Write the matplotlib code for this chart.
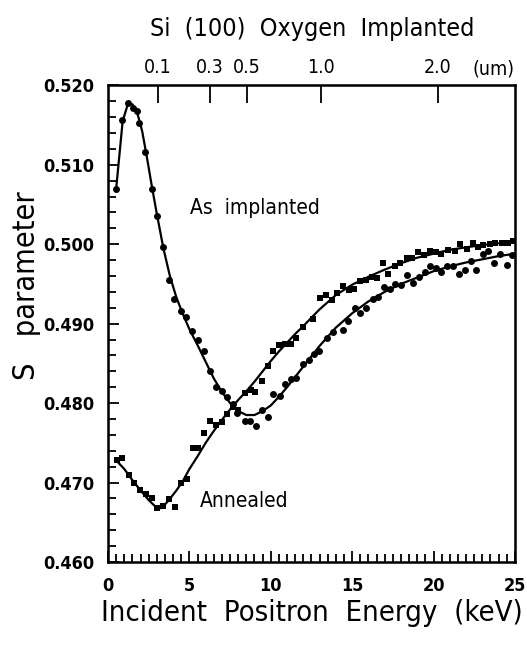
import numpy as np
import matplotlib.pyplot as plt
from matplotlib.ticker import MultipleLocator

plt.rcParams['font.family'] = ['DejaVu Sans']
plt.rcParams['font.stretch'] = 'condensed'

# As implanted (circles)
e_imp = [0.49, 0.88, 1.21, 1.56, 1.75, 1.92, 2.29, 2.68, 3.03, 3.36, 3.75, 4.08, 4.46,
         4.79, 5.18, 5.55, 5.90, 6.27, 6.63, 6.98, 7.32, 7.70, 7.94, 8.42, 8.72, 9.09,
         9.48, 9.85, 10.15, 10.57, 10.87, 11.24, 11.58, 11.95, 12.34, 12.65, 12.98, 13.43,
         13.84, 14.41, 14.76, 15.17, 15.48, 15.85, 16.30, 16.60, 16.95, 17.32, 17.63, 18.0,
         18.35, 18.72, 19.10, 19.47, 19.78, 20.15, 20.49, 20.84, 21.21, 21.56, 21.93, 22.30,
         22.64, 23.02, 23.36, 23.71, 24.08, 24.49, 24.80]
s_imp = [0.5070, 0.5156, 0.5178, 0.5171, 0.5168, 0.5152, 0.5116, 0.5070, 0.5035, 0.4997,
         0.4955, 0.4931, 0.4916, 0.4908, 0.4891, 0.4879, 0.4865, 0.4841, 0.4820, 0.4815,
         0.4808, 0.4799, 0.4788, 0.4777, 0.4778, 0.4771, 0.4791, 0.4783, 0.4812, 0.4809,
         0.4824, 0.4830, 0.4831, 0.4849, 0.4854, 0.4862, 0.4865, 0.4882, 0.4889, 0.4892,
         0.4903, 0.4920, 0.4914, 0.4920, 0.4931, 0.4934, 0.4946, 0.4944, 0.4950, 0.4949,
         0.4961, 0.4951, 0.4959, 0.4965, 0.4973, 0.4970, 0.4965, 0.4973, 0.4972, 0.4963,
         0.4968, 0.4979, 0.4967, 0.4988, 0.4992, 0.4976, 0.4988, 0.4974, 0.4987]

# Annealed (squares)
e_ann = [0.53, 0.88, 1.31, 1.62, 1.97, 2.31, 2.68, 3.03, 3.36, 3.77, 4.12, 4.48, 4.87,
         5.24, 5.51, 5.92, 6.27, 6.63, 6.98, 7.33, 7.66, 8.0, 8.42, 8.76, 9.03, 9.48,
         9.85, 10.15, 10.52, 10.87, 11.22, 11.58, 12.0, 12.61, 13.02, 13.39, 13.74, 14.09,
         14.45, 14.80, 15.11, 15.48, 15.83, 16.19, 16.5, 16.91, 17.22, 17.63, 17.97, 18.35,
         18.69, 19.06, 19.41, 19.78, 20.15, 20.49, 20.90, 21.31, 21.62, 22.03, 22.44, 22.75,
         23.05, 23.46, 23.77, 24.18, 24.59, 24.90]
s_ann = [0.4729, 0.4731, 0.4709, 0.4700, 0.4691, 0.4685, 0.4680, 0.4668, 0.4670, 0.4679,
         0.4669, 0.4700, 0.4705, 0.4743, 0.4743, 0.4762, 0.4778, 0.4772, 0.4776, 0.4786,
         0.4795, 0.4791, 0.4813, 0.4816, 0.4814, 0.4828, 0.4847, 0.4866, 0.4873, 0.4874,
         0.4875, 0.4882, 0.4896, 0.4906, 0.4932, 0.4936, 0.4930, 0.4938, 0.4947, 0.4942,
         0.4944, 0.4954, 0.4955, 0.4959, 0.4958, 0.4976, 0.4963, 0.4972, 0.4976, 0.4983,
         0.4983, 0.4990, 0.4986, 0.4992, 0.4990, 0.4988, 0.4993, 0.4992, 0.5000, 0.4994,
         0.5001, 0.4996, 0.4999, 0.5000, 0.5002, 0.5001, 0.5002, 0.5004]

# fitted curves
fit_imp_e = [0.5, 0.9, 1.2, 1.5, 1.8, 2.1, 2.4, 2.7, 3.0, 3.4, 3.8, 4.2, 4.6, 5.0, 5.5,
             6.0, 6.5, 7.0, 7.5, 8.0, 8.5, 9.0, 9.5, 10, 10.5, 11, 11.5, 12, 12.5, 13,
             14, 15, 16, 17, 18, 19, 20, 21, 22, 23, 24, 25]
fit_imp_s = [0.5070, 0.5155, 0.5175, 0.5176, 0.5165, 0.5142, 0.5108, 0.5072, 0.5038,
             0.4995, 0.4960, 0.4933, 0.4912, 0.4893, 0.4873, 0.4852, 0.4831, 0.4814,
             0.4800, 0.4790, 0.4785, 0.4785, 0.4790, 0.4797, 0.4808, 0.4820, 0.4833,
             0.4846, 0.4859, 0.4872, 0.4895, 0.4913, 0.4928, 0.4940, 0.4950, 0.4958,
             0.4966, 0.4972, 0.4977, 0.4981, 0.4985, 0.4988]
fit_ann_e = [0.5, 1.0, 1.5, 2.0, 2.5, 3.0, 3.3, 3.7, 4.2, 4.6, 5.0, 5.5, 6.0, 6.5, 7.0,
             7.5, 8.0, 8.5, 9.0, 9.5, 10, 10.5, 11, 11.5, 12, 13, 14, 15, 16, 17, 18, 19,
             20, 21, 22, 23, 24, 25]
fit_ann_s = [0.4728, 0.4717, 0.4703, 0.4690, 0.4678, 0.4668, 0.4668, 0.4677, 0.4690,
             0.4702, 0.4717, 0.4733, 0.4750, 0.4765, 0.4779, 0.4792, 0.4804, 0.4815,
             0.4827, 0.4840, 0.4853, 0.4865, 0.4876, 0.4887, 0.4897, 0.4918, 0.4936,
             0.4949, 0.4959, 0.4968, 0.4976, 0.4983, 0.4988, 0.4993, 0.4996, 0.4999,
             0.5001, 0.5003]

# depth scale on top (energy positions of the depth ticks)
depth_e = [3.07, 6.27, 8.54, 13.08, 20.27]
depth_lbl = ['0.1', '0.3', '0.5', '1.0', '2.0']

fig = plt.figure(figsize=(5.27, 6.46), dpi=100)
ax = fig.add_axes([0.205, 0.130, 0.772, 0.738])

ax.plot(fit_imp_e, fit_imp_s, color='black', lw=1.6)
ax.plot(fit_ann_e, fit_ann_s, color='black', lw=1.6)
ax.plot(e_imp, s_imp, 'o', color='black', ms=5, mew=0)
ax.plot(e_ann, s_ann, 's', color='black', ms=4.8, mew=0)

ax.set_xlim(0, 25)
ax.set_ylim(0.460, 0.520)
ax.xaxis.set_major_locator(MultipleLocator(5))
ax.xaxis.set_minor_locator(MultipleLocator(0.5))
ax.yaxis.set_major_locator(MultipleLocator(0.01))
ax.yaxis.set_minor_locator(MultipleLocator(0.002))
ax.yaxis.set_major_formatter(plt.FormatStrFormatter('%.3f'))
ax.tick_params(which='both', direction='in', top=False, right=False, width=1.3)
ax.tick_params(which='major', length=8, labelsize=13)
ax.tick_params(which='minor', length=6)
ax.tick_params(axis='x', which='major', pad=11)
ax.tick_params(axis='y', which='major', pad=10)
for lab in ax.get_xticklabels() + ax.get_yticklabels():
    lab.set_fontweight('bold')
for sp in ax.spines.values():
    sp.set_linewidth(1.8)

ax.set_xlabel('Incident  Positron  Energy  (keV)', fontsize=21, labelpad=3)
ax.set_ylabel('S   parameter', fontsize=22)
ax.yaxis.set_label_coords(-0.165, 0.58)

top = ax.twiny()
top.set_xlim(ax.get_xlim())
top.set_xticks(depth_e)
top.set_xticklabels(depth_lbl)
top.tick_params(direction='in', length=13, width=1.3, labelsize=14, pad=6)
top.text(1.0, 1.015, '(um)', transform=ax.transAxes, ha='right', va='bottom', fontsize=14)
fig.text(0.592, 0.955, 'Si  (100)  Oxygen  Implanted', ha='center', va='center', fontsize=18)

ax.text(5.05, 0.5046, 'As  implanted', fontsize=15, va='center')
ax.text(5.65, 0.4677, 'Annealed', fontsize=15, va='center')

fig.savefig('out.png', dpi=100)
